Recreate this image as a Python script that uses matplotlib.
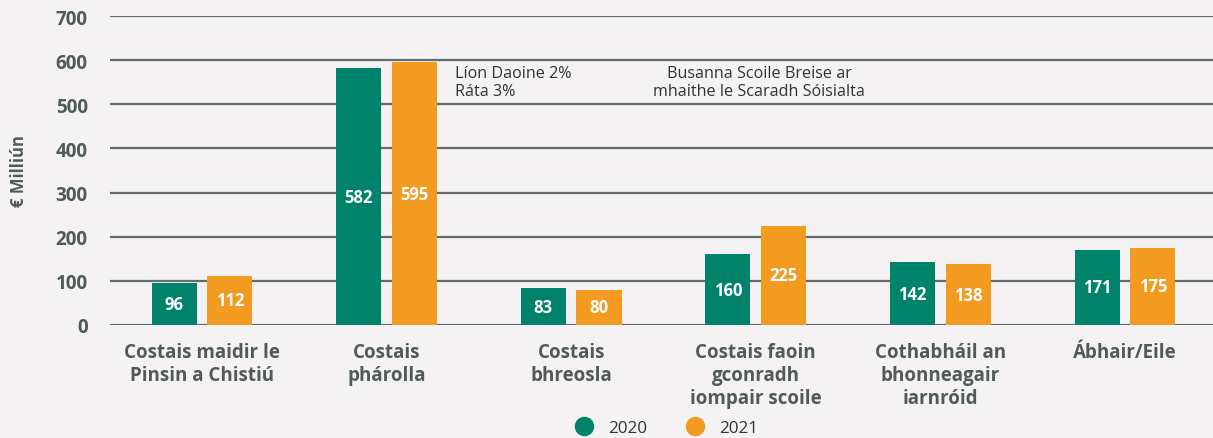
import matplotlib.pyplot as plt
from matplotlib.lines import Line2D
import numpy as np

# data
categories = [
    "Costais maidir le\nPinsin a Chistiú",
    "Costais\nphárolla",
    "Costais\nbhreosla",
    "Costais faoin\ngconradh\niompair scoile",
    "Cothabháil an\nbhonneagair\niarnróid",
    "Ábhair/Eile",
]
values_2020 = [96, 582, 83, 160, 142, 171]
values_2021 = [112, 595, 80, 225, 138, 175]
series_names = ["2020", "2021"]
y_ticks = [0, 100, 200, 300, 400, 500, 600, 700]

note_pay = "Líon Daoine 2%\nRáta 3%"
note_bus = "Busanna Scoile Breise ar\nmhaithe le Scaradh Sóisialta"

BG = "#f4f2f2"
GREEN = "#00836a"
ORANGE = "#f39a21"
TEXT = "#505a57"
GRID = "#666b6a"

plt.rcParams['font.family'] = ['Open Sans', 'DejaVu Sans']

fig = plt.figure(figsize=(12.13, 4.39), dpi=100, facecolor=BG)
ax = fig.add_axes([110 / 1213, (439 - 326) / 439, (1213 - 110) / 1213, (326 - 17) / 439])
ax.set_facecolor(BG)

x = np.arange(len(categories))
w = 0.244
off = 0.151
bars1 = ax.bar(x - off, values_2020, w, color=GREEN, zorder=3)
bars2 = ax.bar(x + off, values_2021, w, color=ORANGE, zorder=3)

for bars in (bars1, bars2):
    for b in bars:
        h = b.get_height()
        ax.text(b.get_x() + b.get_width() / 2, h / 2, f"{h:.0f}", ha='center', va='center',
                color='white', fontsize=12, fontweight='bold', zorder=4)

ax.set_xlim(-0.498, 5.477)
ax.set_ylim(0, 700)
ax.set_yticks(y_ticks)
ax.set_yticklabels([str(t) for t in y_ticks], fontsize=13.6, fontweight='bold', color=TEXT)
ax.set_xticks(x)
ax.set_xticklabels(categories, fontsize=13.5, fontweight='bold', color=TEXT, linespacing=1.2)
ax.tick_params(axis='both', length=0)
ax.tick_params(axis='y', pad=16)
ax.tick_params(axis='x', pad=12)
ax.yaxis.grid(True, color=GRID, linewidth=1.6, zorder=0)
for s in ax.spines.values():
    s.set_visible(False)

ax.set_ylabel("€ Milliún", fontsize=12, fontweight='bold', color=TEXT)
ax.yaxis.set_label_coords(-0.074, 0.5)

ax.text(1.37, 588, note_pay, ha='left', va='top', fontsize=11.6, color='#333333', linespacing=1.1)
ax.text(3.02, 588, note_bus, ha='center', va='top', fontsize=11.6, color='#333333', linespacing=1.1)

handles = [Line2D([], [], marker='o', linestyle='', markersize=13, color=c) for c in (GREEN, ORANGE)]
fig.legend(handles, series_names, loc='center', bbox_to_anchor=(0.546, 0.022), ncol=2, frameon=False,
           fontsize=12.3, handletextpad=0.4, columnspacing=1.8, labelcolor='#333333')

fig.savefig("out.png", dpi=100, facecolor=BG)
